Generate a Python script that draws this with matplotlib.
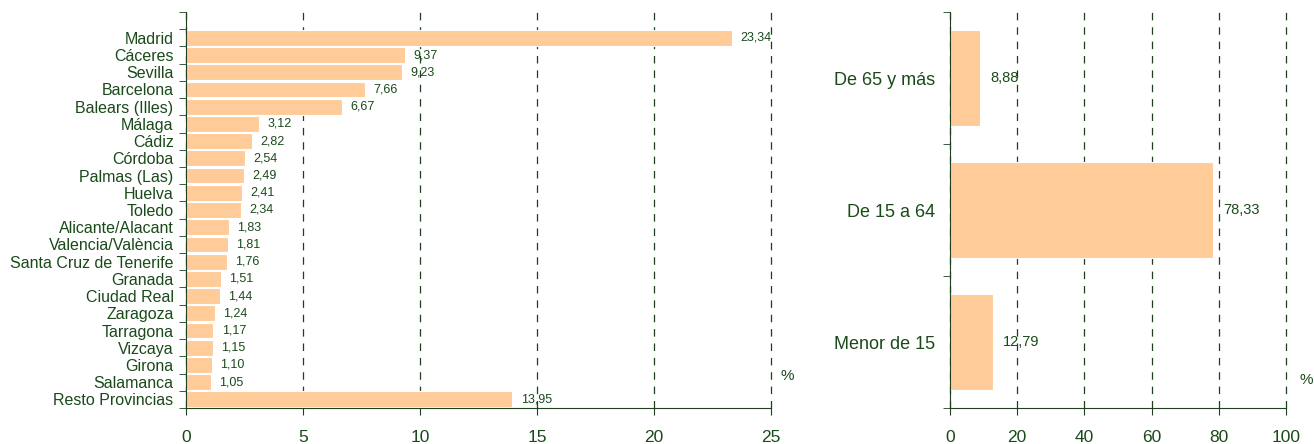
import matplotlib.pyplot as plt
from matplotlib.ticker import FixedLocator, NullFormatter

provincias = ['Madrid', 'Cáceres', 'Sevilla', 'Barcelona', 'Balears (Illes)', 'Málaga',
              'Cádiz', 'Córdoba', 'Palmas (Las)', 'Huelva', 'Toledo', 'Alicante/Alacant',
              'Valencia/València', 'Santa Cruz de Tenerife', 'Granada', 'Ciudad Real',
              'Zaragoza', 'Tarragona', 'Vizcaya', 'Girona', 'Salamanca', 'Resto Provincias']
prov_pct = [23.34, 9.37, 9.23, 7.66, 6.67, 3.12, 2.82, 2.54, 2.49, 2.41, 2.34, 1.83,
            1.81, 1.76, 1.51, 1.44, 1.24, 1.17, 1.15, 1.10, 1.05, 13.95]

edades = ['De 65 y más', 'De 15 a 64', 'Menor de 15']
edad_pct = [8.88, 78.33, 12.79]

bar_col = '#ffcc99'
txt_col = '#1a4a1a'
line_col = '#1f3f1f'

plt.rcParams['font.family'] = ['Liberation Sans', 'DejaVu Sans']

fig = plt.figure(figsize=(13.14, 4.44), dpi=100)
ax1 = fig.add_axes([186/1314, 36/444, 585/1314, 396/444])
ax2 = fig.add_axes([950/1314, 36/444, 336/1314, 396/444])


def fmt(v):
    return f'{v:.2f}'.replace('.', ',')


def style(ax, xmax, step, nslots):
    ax.set_xlim(0, xmax)
    ax.set_xticks(range(0, xmax + 1, step))
    ax.set_ylim(-0.5, nslots - 0.5)
    ax.yaxis.set_minor_locator(FixedLocator([i - 0.5 for i in range(nslots + 1)]))
    ax.yaxis.set_minor_formatter(NullFormatter())
    ax.tick_params(axis='y', which='major', length=0, colors=txt_col, pad=9)
    ax.tick_params(axis='y', which='minor', length=5, direction='out', color=line_col)
    ax.tick_params(axis='x', length=5, direction='out', color=line_col,
                   labelcolor=txt_col, labelsize=12.5, pad=11)
    for s in ['top', 'right']:
        ax.spines[s].set_visible(False)
    for s in ['left', 'bottom']:
        ax.spines[s].set_color(line_col)
    ax.set_axisbelow(True)
    ax.xaxis.grid(True, linestyle=(0, (6, 5.5)), color=line_col, linewidth=0.9)
    for gl in ax.get_xgridlines():
        gl.set_clip_on(False)


# provincias
n = len(provincias)
ypos = [n - 1 - i for i in range(n)]
ax1.barh(ypos, prov_pct, height=0.92, color=bar_col, edgecolor='white', linewidth=0.8)
style(ax1, 25, 5, n + 1)
ax1.set_yticks(ypos)
ax1.set_yticklabels(provincias, fontsize=11.5)
for y, v in zip(ypos, prov_pct):
    ax1.text(v + 0.35, y, fmt(v), va='center', ha='left', fontsize=9, color=txt_col)
ax1.text(1.016, 0.07, '%', transform=ax1.transAxes, fontsize=11, color=txt_col)

# edades
ypos2 = [2, 1, 0]
ax2.barh(ypos2, edad_pct, height=0.73, color=bar_col, edgecolor='white', linewidth=0.8)
style(ax2, 100, 20, 3)
ax2.set_yticks(ypos2)
ax2.set_yticklabels(edades, fontsize=13)
ax2.tick_params(axis='y', which='major', pad=11)
for y, v in zip(ypos2, edad_pct):
    ax2.text(v + 3, y, fmt(v), va='center', ha='left', fontsize=10.5, color=txt_col)
ax2.text(1.04, 0.06, '%', transform=ax2.transAxes, fontsize=11, color=txt_col)

fig.savefig('out.png', dpi=100)
